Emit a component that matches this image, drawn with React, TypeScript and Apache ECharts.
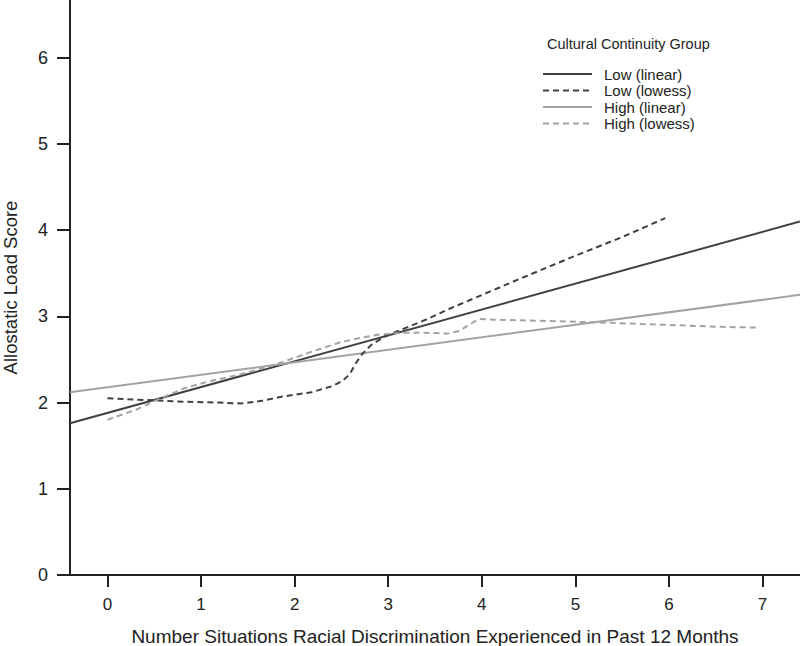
import React, { useEffect, useRef } from "react";
import * as echarts from "echarts";

const xTicks = [0, 1, 2, 3, 4, 5, 6, 7];
const yTicks = [0, 1, 2, 3, 4, 5, 6];

const lowLinear: [number, number][] = [
  [-0.4, 1.76],
  [7.4, 4.1],
];
const highLinear: [number, number][] = [
  [-0.4, 2.12],
  [7.4, 3.25],
];
const lowLowess: [number, number][] = [
  [0, 2.05], [0.4, 2.03], [0.83, 2.01], [1.2, 2.0], [1.43, 1.99], [1.65, 2.02],
  [1.87, 2.07], [2.18, 2.12], [2.4, 2.19], [2.51, 2.25], [2.59, 2.33], [2.65, 2.45],
  [2.72, 2.56], [2.82, 2.67], [2.95, 2.76], [3.22, 2.88], [3.42, 2.97], [3.7, 3.11],
  [3.94, 3.22], [4.2, 3.34], [4.46, 3.46], [4.97, 3.69], [5.5, 3.92], [5.96, 4.14],
];
const highLowess: [number, number][] = [
  [0, 1.8], [0.31, 1.92], [0.55, 2.04], [0.83, 2.17], [1.1, 2.25], [1.35, 2.31],
  [1.6, 2.38], [1.87, 2.47], [2.18, 2.59], [2.49, 2.7], [2.7, 2.75], [2.9, 2.79],
  [3.16, 2.81], [3.4, 2.81], [3.63, 2.8], [3.76, 2.83], [3.86, 2.9], [3.97, 2.97],
  [4.2, 2.96], [4.6, 2.95], [5.24, 2.93], [6.01, 2.9], [6.5, 2.88], [6.94, 2.87],
];

const seriesNames = ["Low (linear)", "Low (lowess)", "High (linear)", "High (lowess)"];
const legendTitle = "Cultural Continuity Group";
const dark = "#404040";
const light = "#a3a3a3";
const font = "'Liberation Sans', Arial, sans-serif";

export default function App() {
  const ref = useRef<HTMLDivElement>(null);
  useEffect(() => {
    if (!ref.current) return;
    const chart = echarts.init(ref.current, null, { renderer: "svg" });
    const styles = [
      { color: dark, dashed: false },
      { color: dark, dashed: true },
      { color: light, dashed: false },
      { color: light, dashed: true },
    ];
    const datas = [lowLinear, lowLowess, highLinear, highLowess];
    const series = seriesNames.map((name, i) => ({
      name,
      type: "line",
      data: datas[i],
      showSymbol: false,
      symbol: "none",
      lineStyle: { color: styles[i].color, width: 2, type: styles[i].dashed ? [6, 4] : "solid" },
      itemStyle: { color: styles[i].color },
      z: styles[i].dashed ? 3 : 2,
    }));
    const rowY = [74, 90.5, 107, 123.5];
    const legendGraphics: any[] = [
      {
        type: "text",
        x: 547,
        y: 44,
        style: {
          text: legendTitle,
          fontSize: 14.5,
          fill: "#222",
          fontFamily: font,
          verticalAlign: "middle",
        },
      },
    ];
    seriesNames.forEach((name, i) => {
      legendGraphics.push({
        type: "line",
        shape: { x1: 543, y1: rowY[i], x2: 592, y2: rowY[i] },
        style: {
          stroke: styles[i].color,
          lineWidth: 2,
          lineDash: styles[i].dashed ? [6, 4] : null,
        },
      });
      legendGraphics.push({
        type: "text",
        x: 604,
        y: rowY[i],
        style: { text: name, fontSize: 15, fill: "#222", fontFamily: font, verticalAlign: "middle" },
      });
    });
    chart.setOption({
      animation: false,
      backgroundColor: "#ffffff",
      textStyle: { fontFamily: font },
      grid: { left: 70, right: 0, top: 0, bottom: 71, outerBoundsMode: "none", containLabel: false },
      xAxis: {
        type: "value",
        min: -0.4,
        max: 7.4,
        name: "Number Situations Racial Discrimination Experienced in Past 12 Months",
        nameLocation: "middle",
        nameGap: 52,
        nameTextStyle: { fontSize: 19, color: "#222", fontFamily: font },
        axisLine: { show: true, onZero: false, lineStyle: { color: "#222", width: 2 } },
        axisTick: { show: true, length: 12, customValues: xTicks, lineStyle: { color: "#222", width: 2 } },
        axisLabel: { customValues: xTicks, margin: 21, fontSize: 17, color: "#222", fontFamily: font },
        splitLine: { show: false },
      },
      yAxis: {
        type: "value",
        min: 0,
        max: 6.67,
        name: "Allostatic Load Score",
        nameLocation: "middle",
        nameGap: 50,
        nameRotate: 90,
        nameTextStyle: { fontSize: 18.5, color: "#222", fontFamily: font },
        axisLine: { show: true, onZero: false, lineStyle: { color: "#222", width: 2 } },
        axisTick: { show: true, length: 13, customValues: yTicks, lineStyle: { color: "#222", width: 2 } },
        axisLabel: { customValues: yTicks, margin: 22, fontSize: 18, color: "#222", fontFamily: font },
        splitLine: { show: false },
      },
      graphic: legendGraphics,
      series,
    });
    return () => chart.dispose();
  }, []);
  return (
    <div
      ref={ref}
      style={{ position: "fixed", left: 0, top: 0, width: 800, height: 646, background: "#fff" }}
    />
  );
}
